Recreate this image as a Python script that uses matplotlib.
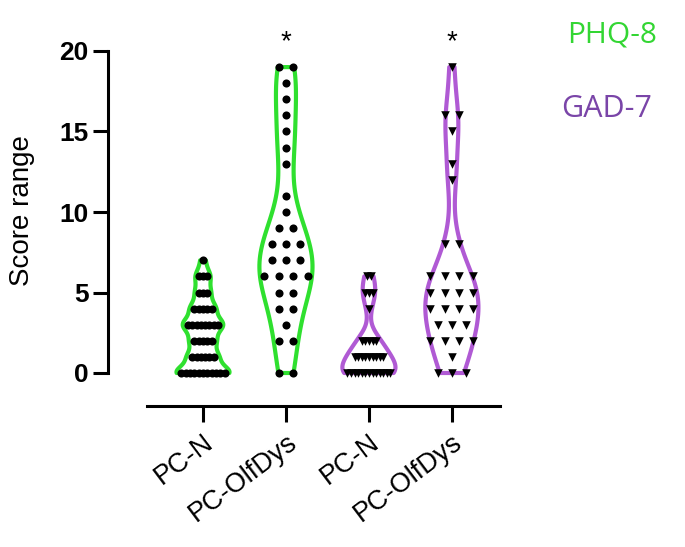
import numpy as np
import matplotlib
matplotlib.use("Agg")
import matplotlib.pyplot as plt

# ---- data (score value -> count of participants) ----
categories = ["PC-N", "PC-OlfDys", "PC-N", "PC-OlfDys"]
phq_pcn_scores = [0, 1, 2, 3, 4, 5, 6, 7]
phq_pcn_counts = [11, 6, 5, 8, 5, 3, 3, 1]
phq_olf_scores = [0, 2, 3, 4, 5, 6, 7, 8, 9, 10, 11, 13, 14, 15, 16, 17, 18, 19]
phq_olf_counts = [2, 2, 1, 2, 2, 4, 3, 3, 2, 1, 1, 1, 1, 1, 1, 1, 1, 2]
gad_pcn_scores = [0, 1, 2, 4, 5, 6]
gad_pcn_counts = [13, 9, 5, 1, 3, 2]
gad_olf_scores = [0, 1, 2, 3, 4, 5, 6, 8, 12, 13, 15, 16, 19]
gad_olf_counts = [3, 1, 4, 3, 4, 4, 4, 2, 1, 1, 1, 2, 1]
sig_groups = [1, 3]
legend_labels = ["PHQ-8", "GAD-7"]

groups = [(phq_pcn_scores, phq_pcn_counts), (phq_olf_scores, phq_olf_counts),
          (gad_pcn_scores, gad_pcn_counts), (gad_olf_scores, gad_olf_counts)]
green = "#2fe02f"
purple = "#b05ad4"
colors = [green, green, purple, purple]
markers = ["o", "o", "v", "v"]
bws = [0.22, 0.3, 0.35, 0.3]

fig = plt.figure(figsize=(6.85, 5.47), dpi=100)
ax = fig.add_axes([147/685, 1-373/547, 353/685, 322/547])

for sp_name in ["top", "right"]:
    ax.spines[sp_name].set_visible(False)
ax.spines["left"].set_position(("outward", 28))
ax.spines["bottom"].set_position(("outward", 24))
ax.spines["left"].set_linewidth(2.2)
ax.spines["bottom"].set_linewidth(2.2)

for i, (scores, counts) in enumerate(groups):
    vals = np.repeat(scores, counts)
    vp = ax.violinplot([vals], positions=[i], widths=0.64, showextrema=False,
                       bw_method=bws[i])
    for body in vp["bodies"]:
        body.set_facecolor("none")
        body.set_edgecolor(colors[i])
        body.set_linewidth(3)
        body.set_alpha(1)
        body.set_clip_on(False)

for i, (scores, counts) in enumerate(groups):
    nmax = max(counts)
    sp = min(0.19, 0.52 / max(nmax - 1, 1))
    xs, ys = [], []
    for s, c in zip(scores, counts):
        offs = (np.arange(c) - (c - 1) / 2) * sp
        xs.extend(i + offs)
        ys.extend([s] * c)
    ax.scatter(xs, ys, s=34 if markers[i] == "o" else 38, marker=markers[i],
               color="black", zorder=3, clip_on=False, linewidths=0)

for g in sig_groups:
    ax.text(g, 20.55, "*", ha="center", va="center", fontsize=20,
            family="Liberation Sans")

ax.set_xlim(-0.675, 3.58)
ax.set_ylim(0, 20)
ax.set_yticks([0, 5, 10, 15, 20])
ax.set_yticklabels(["0", "5", "10", "15", "20"], fontsize=19,
                   fontweight="bold", family="Liberation Sans")
ax.set_xticks(range(4))
ax.set_xticklabels(categories, rotation=37, ha="right", rotation_mode="anchor",
                   fontsize=19.5, family="Liberation Sans")
ax.set_ylabel("Score range", fontsize=20, family="Liberation Sans", va="center")
ax.yaxis.set_label_coords(-0.354, 0.506)
ax.tick_params(axis="y", length=11, width=2.2, pad=3)
ax.tick_params(axis="x", length=11.5, width=2.2, pad=5)

fig.text(612/685, 1-35/547, legend_labels[0], color="#33d633", fontsize=21.5,
         ha="center", va="center", family="Open Sans")
fig.text(607/685, 1-109/547, legend_labels[1], color="#7a45a8", fontsize=22,
         ha="center", va="center", family="Open Sans")

fig.savefig("out.png", dpi=100)
